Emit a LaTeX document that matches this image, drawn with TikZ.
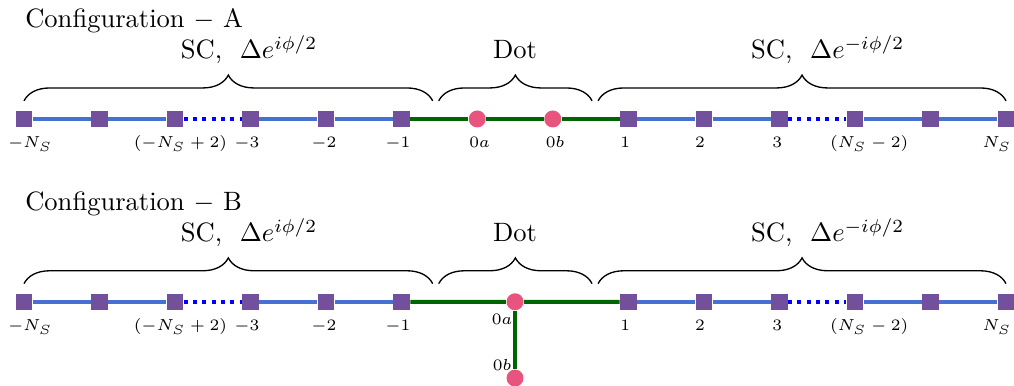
\documentclass[tikz,border=0pt]{standalone}
\usetikzlibrary{decorations.pathreplacing}
\definecolor{sitepurple}{RGB}{115,80,155}
\definecolor{dotpink}{RGB}{232,84,125}
\definecolor{leadblue}{RGB}{70,112,210}
\definecolor{dotgreen}{RGB}{0,100,0}
\tikzset{
	site/.style={rectangle, fill=sitepurple, minimum size=6.2pt, inner sep=0pt},
	qdot/.style={circle, fill=dotpink, minimum size=6.4pt, inner sep=0pt},
	lead/.style={leadblue, line width=1.5pt},
	gap/.style={blue, line width=1.5pt, dotted},
	link/.style={dotgreen, line width=1.5pt},
	cbrace/.style={decorate, decoration={brace, amplitude=9.7pt}, line width=0.5pt},
	num/.style={anchor=base, font=\fontsize{6.4}{7}\selectfont, inner sep=0pt}
}
\begin{document}
\begin{tikzpicture}
	\useasboundingbox (-0.318,-3.535) rectangle (13.106,1.575);
	\foreach \c/\y in {A/0, B/-2.42} {
		\begin{scope}[yshift=\y cm]
		\node [anchor=base west, inner sep=0pt] (\c-title) at (0.01,1.205) {Configuration $-$ \c};
		\node [anchor=base] (\c-scl) at (2.98,0.795) {SC, \ $\Delta e^{i\phi/2}$};
		\node [anchor=base] (\c-dot) at (6.5,0.795) {Dot};
		\node [anchor=base] (\c-scr) at (10.64,0.795) {SC, \ $\Delta e^{-i\phi/2}$};
		\draw [cbrace] (0,0.24) -- (5.41,0.24);
		\draw [cbrace] (5.49,0.24) -- (7.52,0.24);
		\draw [cbrace] (7.6,0.24) -- (13,0.24);
		\foreach \x/\n in {0/m6, 1/m5, 2/m4, 3/m3, 4/m2, 5/m1, 8/p1, 9/p2, 10/p3, 11/p4, 12/p5, 13/p6}
			\node [site] (\c-\n) at (\x,0) {};
		\draw [lead] (\c-m6) -- (\c-m5) -- (\c-m4);
		\draw [gap] (\c-m4) -- (\c-m3);
		\draw [lead] (\c-m3) -- (\c-m2) -- (\c-m1);
		\draw [lead] (\c-p1) -- (\c-p2) -- (\c-p3);
		\draw [gap] (\c-p3) -- (\c-p4);
		\draw [lead] (\c-p4) -- (\c-p5) -- (\c-p6);
		\foreach \x/\t [count=\k] in {0.08/$-N_S$, 2.07/$(-N_S+2)$, 2.95/$-3$, 3.97/$-2$, 4.95/$-1$,
			7.96/$1$, 8.95/$2$, 9.97/$3$, 11.19/$(N_S-2)$, 12.88/$N_S$}
			\node [num] (\c-lab\k) at (\x,-0.384) {\t};
		\end{scope}
	}
	\node [qdot] (A-0a) at (6,0) {};
	\node [qdot] (A-0b) at (7,0) {};
	\node [num] (A-lab0a) at (6.03,-0.384) {$0a$};
	\node [num] (A-lab0b) at (7.03,-0.384) {$0b$};
	\draw [link] (A-m1) -- (A-0a) -- (A-0b) -- (A-p1);
	\node [qdot] (B-0a) at (6.5,-2.42) {};
	\node [qdot] (B-0b) at (6.5,-3.43) {};
	\node [num] (B-lab0a) at (6.33,-2.727) {$0a$};
	\node [num] (B-lab0b) at (6.33,-3.33) {$0b$};
	\draw [link] (B-m1) -- (B-0a) -- (B-p1);
	\draw [link] (B-0a) -- (B-0b);
\end{tikzpicture}
\end{document}
